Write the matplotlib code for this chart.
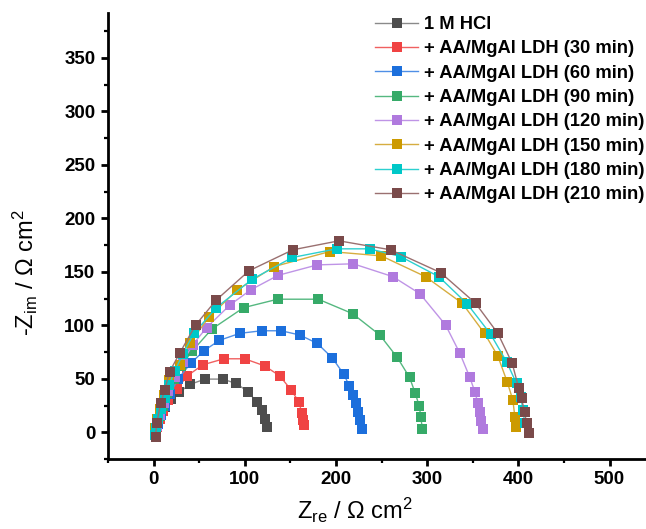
import matplotlib
matplotlib.use("Agg")
from matplotlib import pyplot

FONT = "Liberation Sans"
pyplot.rcParams["font.family"] = [FONT, "DejaVu Sans"]
pyplot.rcParams["mathtext.fontset"] = "custom"
pyplot.rcParams["mathtext.rm"] = FONT
pyplot.rcParams["mathtext.it"] = FONT + ":italic"

labels = [
    "1 M HCl",
    "+ AA/MgAl LDH (30 min)",
    "+ AA/MgAl LDH (60 min)",
    "+ AA/MgAl LDH (90 min)",
    "+ AA/MgAl LDH (120 min)",
    "+ AA/MgAl LDH (150 min)",
    "+ AA/MgAl LDH (180 min)",
    "+ AA/MgAl LDH (210 min)",
]
marker_colors = ["#4d4d4d", "#f04343", "#1c6fdc", "#36aa68", "#b07ade", "#cc9a00", "#00c8c8", "#7a4a4a"]
line_colors = ["#8a8a8a", "#f06060", "#4f8fe6", "#55b880", "#bf94e6", "#d6ad40", "#2cd0d0", "#9a7070"]

# Nyquist data, Z_re / Z_im in ohm cm2
hcl_re = [2, 3, 5, 8, 13, 19, 27.7, 39.8, 56.3, 75.7, 90.7, 103.8, 112.9, 119.2, 121.7, 123.9]
hcl_im = [-2, 4, 10, 17, 24, 31, 37.2, 44.7, 49.7, 49.7, 45.6, 37.8, 28.4, 20.6, 12.8, 5.0]

m30_re = [3, 4, 7, 10, 16, 25.2, 37.0, 54.1, 77.1, 99.8, 121.7, 138.2, 151.0, 159.3, 162.6, 164.1, 164.8]
m30_im = [-1, 5, 12, 20, 30, 40.0, 52.8, 63.1, 68.7, 68.7, 62.1, 52.8, 39.4, 28.4, 18.1, 11.9, 6.6]

m60_re = [3, 5, 8, 12, 18, 27, 40.6, 55.2, 72.0, 94.6, 118.4, 140.0, 160.4, 179.5, 195.9, 208.7,
          214.6, 218.2, 221.5, 224.0, 226.2, 228.1]
m60_im = [0, 8, 16, 25, 36, 50, 64.4, 76.2, 85.9, 92.5, 94.9, 94.9, 90.9, 83.1, 69.6, 54.1,
          43.4, 35.3, 26.9, 19.0, 11.2, 3.5]

m90_re = [2, 4, 7, 10, 15, 22, 30, 42.4, 63.6, 98.7, 136.0, 180.6, 218.2, 248.1, 267.2, 280.7,
          286.9, 291.3, 293.1, 294.6]
m90_im = [-2, 6, 15, 25, 37, 50, 62, 75.9, 96.3, 116.5, 124.4, 124.4, 110.9, 90.9, 70.0, 51.3,
          36.6, 24.6, 14.1, 3.5]

m120_re = [2, 4, 7, 11, 16, 23, 32, 43, 58.1, 83.7, 106.4, 136.5, 179.5, 219.0, 262.4, 292.0,
           320.2, 335.9, 346.8, 352.3, 355.6, 357.8, 359.6, 361.1]
m120_im = [-2, 6, 16, 27, 39, 52, 66, 82, 97.8, 119.0, 133.1, 146.7, 156.5, 157.5, 145.5, 129.6,
           100.3, 73.8, 51.3, 37.8, 27.5, 19.0, 10.6, 3.5]

m150_re = [1, 2, 4, 7, 11, 17, 28.8, 39.5, 60.6, 91.8, 132.1, 193.3, 249.8, 298.2, 338.5, 362.9,
           377.5, 387.8, 394.0, 396.2, 397.7]
m150_im = [-3, 4, 12, 22, 35, 49, 62.8, 83.1, 107.5, 133.1, 154.9, 169.0, 164.9, 145.5, 120.6,
           92.5, 71.2, 47.1, 30.0, 14.3, 5.0]

m180_re = [1, 3, 5, 8, 12, 17, 23, 32, 44.2, 68.8, 108.2, 152.1, 200.7, 236.8, 270.8, 312.8,
           344.0, 369.5, 387.1, 398.0, 402.4, 405.4, 406.8]
m180_im = [-3, 4, 12, 22, 32, 44, 57, 73, 92.5, 116.5, 143.1, 163.4, 171.5, 171.5, 164.3, 145.5,
           120.0, 91.8, 65.9, 45.6, 33.1, 20.6, 8.2]

m210_re = [2.2, 3.3, 7.7, 12.1, 17.5, 28.5, 46.1, 68.8, 104.5, 152.7, 203.2, 259.9, 314.7, 353.1,
           377.5, 393.3, 400.5, 403.5, 406.8, 409.0, 411.5]
m210_im = [-4.4, 8.2, 26.9, 39.4, 56.5, 73.8, 100.3, 123.7, 150.9, 170.6, 179.0, 170.6, 149.3,
           120.6, 92.5, 64.4, 41.0, 31.6, 19.0, 8.7, -0.7]

series_re = [hcl_re, m30_re, m60_re, m90_re, m120_re, m150_re, m180_re, m210_re]
series_im = [hcl_im, m30_im, m60_im, m90_im, m120_im, m150_im, m180_im, m210_im]

W, H = 646, 529
fig = pyplot.figure(figsize=(W / 100, H / 100), dpi=100)
ax = fig.add_axes([108 / W, 1 - 459 / H, 1 - 108 / W, (459 - 13) / H])

for re, im, mc, lc, lab in zip(series_re, series_im, marker_colors, line_colors, labels):
    ax.plot(re, im, color=lc, linewidth=1.0, marker="s", markersize=6.8,
            markerfacecolor=mc, markeredgewidth=0, label=lab)

ax.set_xlim(-50, 540)
ax.set_ylim(-25, 392)
ax.set_xticks([0, 100, 200, 300, 400, 500])
ax.set_xticks(range(-50, 540, 50), minor=True)
ax.set_yticks(range(0, 351, 50))
ax.set_yticks(range(-25, 392, 25), minor=True)

for side in ["top", "right"]:
    ax.spines[side].set_visible(False)
for side in ["left", "bottom"]:
    ax.spines[side].set_linewidth(2.0)

ax.tick_params(which="major", direction="out", length=5, width=2, labelsize=13.5)
ax.tick_params(axis="x", which="major", pad=4)
ax.tick_params(axis="y", which="major", pad=4)
ax.tick_params(which="minor", direction="out", length=3, width=1.6)
for t in ax.get_xticklabels() + ax.get_yticklabels():
    t.set_fontweight("bold")

ax.set_xlabel(r"Z$_{\rm re}$ / $\Omega$ cm$^2$", fontsize=17)
ax.set_ylabel(r"-Z$_{\rm im}$ / $\Omega$ cm$^2$", fontsize=17)
ax.xaxis.set_label_coords((355 - 108) / 538, (459 - 496) / 446)
ax.yaxis.set_label_coords((40 - 108) / 538, (459 - 273) / 446)

ax.legend(loc="upper left", bbox_to_anchor=(375 / W, 1 - 16 / H),
          bbox_transform=fig.transFigure, frameon=False,
          prop={"weight": "bold", "size": 13.2}, handlelength=2.35,
          handletextpad=0.33, labelspacing=0.4, borderpad=0, borderaxespad=0)

fig.savefig("out.png", dpi=100)
